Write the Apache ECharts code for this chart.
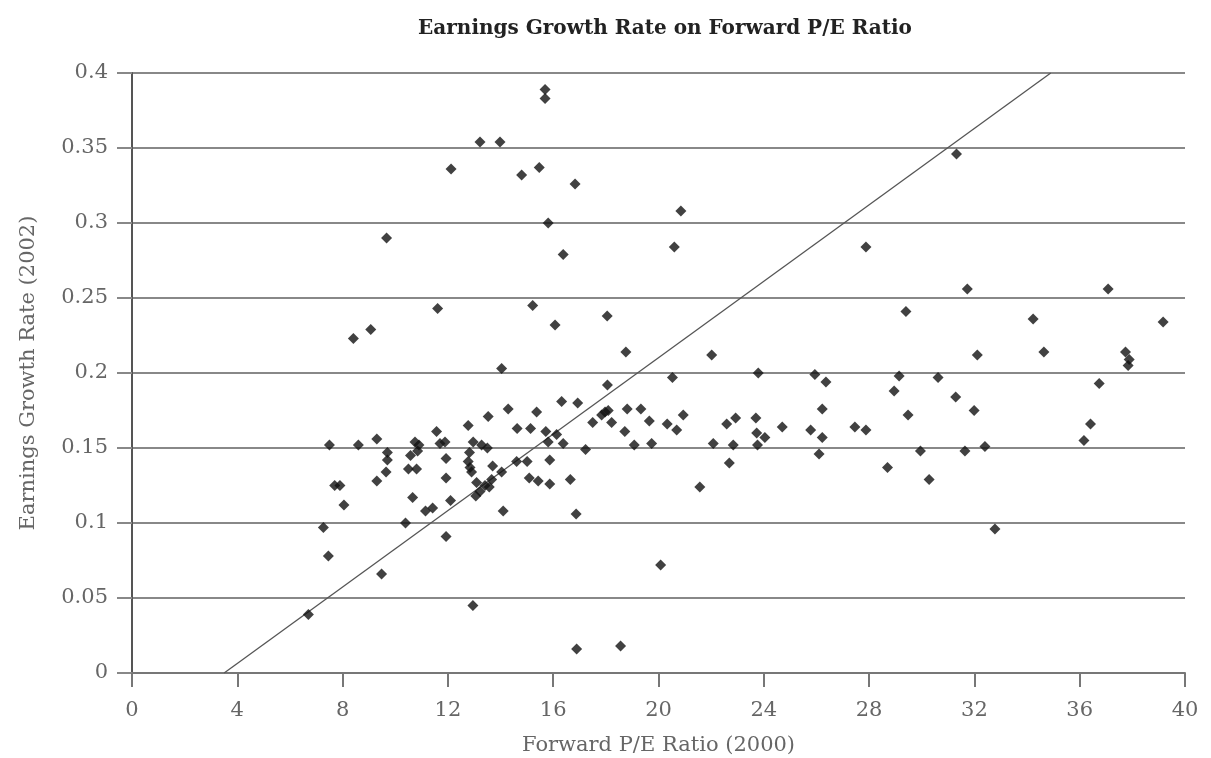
<!DOCTYPE html>
<html>
<head>
<meta charset="utf-8">
<script src="https://cdn.jsdelivr.net/npm/echarts@6/dist/echarts.min.js"></script>
<style>
html,body{margin:0;padding:0;background:#fff;}
#chart{width:1211px;height:758px;}
</style>
</head>
<body>
<div id="chart"></div>
<script>
// Forward P/E ratio (2000)
var peRatio = [
  7.5, 8.6, 9.3, 9.7, 9.7, 9.65, 9.3, 7.7, 7.9, 8.05, 7.27, 7.46, 10.39, 10.66, 10.5, 10.81, 10.58, 10.75, 10.9, 10.85,
  11.57, 11.7, 11.89, 11.93, 11.93, 12.1, 11.15, 11.42, 11.93, 12.77, 13.53, 14.29, 15.37, 16.32, 16.93, 14.63, 15.14, 15.72, 16.13, 15.81,
  16.38, 14.61, 15.01, 15.87, 15.09, 15.43, 15.87, 16.65, 14.10, 16.87,
  12.96, 13.28, 13.50, 12.82, 12.77, 12.84, 12.90, 13.70, 14.04, 13.09, 13.41, 13.66, 13.22, 13.06, 13.57,
  15.69, 15.69, 13.22, 13.98, 12.12, 14.8, 15.47, 16.83, 15.81, 9.67, 16.38,
  11.61, 15.22, 16.07, 18.05, 8.41, 9.07, 14.04, 18.06,
  20.85, 20.6, 27.88, 18.76, 22.02, 20.53, 23.79, 25.94, 26.36,
  17.5, 17.84, 17.97, 18.09, 18.22, 18.81, 19.33, 18.72, 19.65, 19.08, 19.74, 20.33, 20.69, 20.94, 17.23, 21.57, 22.08, 22.59, 22.93, 22.84,
  22.69, 23.70, 23.73, 24.04, 23.76, 24.70, 25.78, 26.22, 26.22, 26.10, 27.46, 27.88, 28.70, 20.08, 16.89, 18.56,
  31.32, 31.73, 37.08, 29.40, 34.23, 39.17, 32.11, 34.64, 37.74, 37.88, 37.84, 29.14, 30.62, 36.74, 28.95, 31.29, 31.99, 29.48, 36.41, 36.16,
  29.95, 31.64, 32.40, 30.28, 32.78,
  6.70, 9.48, 12.95
];
// Earnings growth rate (2002)
var growthRate = [
  0.152, 0.152, 0.156, 0.147, 0.142, 0.134, 0.128, 0.125, 0.125, 0.112, 0.097, 0.078, 0.100, 0.117, 0.136, 0.136, 0.145, 0.154, 0.152, 0.148,
  0.161, 0.153, 0.154, 0.143, 0.130, 0.115, 0.108, 0.110, 0.091, 0.165, 0.171, 0.176, 0.174, 0.181, 0.180, 0.163, 0.163, 0.161, 0.159, 0.154,
  0.153, 0.141, 0.141, 0.142, 0.130, 0.128, 0.126, 0.129, 0.108, 0.106,
  0.154, 0.152, 0.150, 0.147, 0.141, 0.137, 0.134, 0.138, 0.134, 0.127, 0.125, 0.129, 0.121, 0.118, 0.124,
  0.389, 0.383, 0.354, 0.354, 0.336, 0.332, 0.337, 0.326, 0.300, 0.290, 0.279,
  0.243, 0.245, 0.232, 0.238, 0.223, 0.229, 0.203, 0.192,
  0.308, 0.284, 0.284, 0.214, 0.212, 0.197, 0.200, 0.199, 0.194,
  0.167, 0.172, 0.174, 0.175, 0.167, 0.176, 0.176, 0.161, 0.168, 0.152, 0.153, 0.166, 0.162, 0.172, 0.149, 0.124, 0.153, 0.166, 0.170, 0.152,
  0.140, 0.170, 0.160, 0.157, 0.152, 0.164, 0.162, 0.176, 0.157, 0.146, 0.164, 0.162, 0.137, 0.072, 0.016, 0.018,
  0.346, 0.256, 0.256, 0.241, 0.236, 0.234, 0.212, 0.214, 0.214, 0.209, 0.205, 0.198, 0.197, 0.193, 0.188, 0.184, 0.175, 0.172, 0.166, 0.155,
  0.148, 0.148, 0.151, 0.129, 0.096,
  0.039, 0.066, 0.045
];
// Reference line end points
var lineX = [3.5, 34.9];
var lineY = [0, 0.4];

var xMin = 0, xMax = 40, xStep = 4;
var yMin = 0, yMax = 0.4, yStep = 0.05;

var points = peRatio.map(function (x, i) { return [x, growthRate[i]]; });
var linePts = lineX.map(function (x, i) { return [x, lineY[i]]; });

var serif = 'DejaVu Serif';
var chart = echarts.init(document.getElementById('chart'), null, {renderer: 'canvas'});
chart.setOption({
  backgroundColor: '#fff',
  animation: false,
  title: {
    text: 'Earnings Growth Rate on Forward P/E Ratio',
    left: 660, top: 14, textAlign: 'center',
    textStyle: {fontFamily: serif, fontWeight: 'bold', fontSize: 20, color: '#222'}
  },
  grid: {left: 132, right: 26, top: 73, bottom: 85, containLabel: false, outerBoundsMode: 'none'},
  xAxis: {
    type: 'value', min: xMin, max: xMax, interval: xStep,
    name: 'Forward P/E Ratio (2000)', nameLocation: 'middle', nameGap: 62,
    nameTextStyle: {fontFamily: serif, fontSize: 21, color: '#666'},
    axisLine: {show: true, onZero: false, lineStyle: {color: '#777', width: 2}},
    axisTick: {show: true, length: 14, lineStyle: {color: '#777', width: 2}},
    axisLabel: {fontFamily: serif, fontSize: 21, color: '#666', margin: 27},
    splitLine: {show: false}
  },
  yAxis: {
    type: 'value', min: yMin, max: yMax, interval: yStep,
    name: 'Earnings Growth Rate (2002)', nameLocation: 'middle', nameGap: 93,
    nameTextStyle: {fontFamily: serif, fontSize: 21, color: '#666'},
    axisLine: {show: true, lineStyle: {color: '#555', width: 2}},
    axisTick: {show: true, length: 15, lineStyle: {color: '#888', width: 2}},
    axisLabel: {fontFamily: serif, fontSize: 21, color: '#666', margin: 24},
    splitLine: {show: true, lineStyle: {color: '#888', width: 2}}
  },
  series: [
    {
      type: 'line', data: linePts, symbol: 'none', silent: true,
      lineStyle: {color: '#555', width: 1.3}, z: 2
    },
    {
      type: 'scatter', data: points, symbol: 'diamond', symbolSize: 11,
      itemStyle: {color: '#111'}, z: 3
    }
  ]
});
</script>
</body>
</html>
